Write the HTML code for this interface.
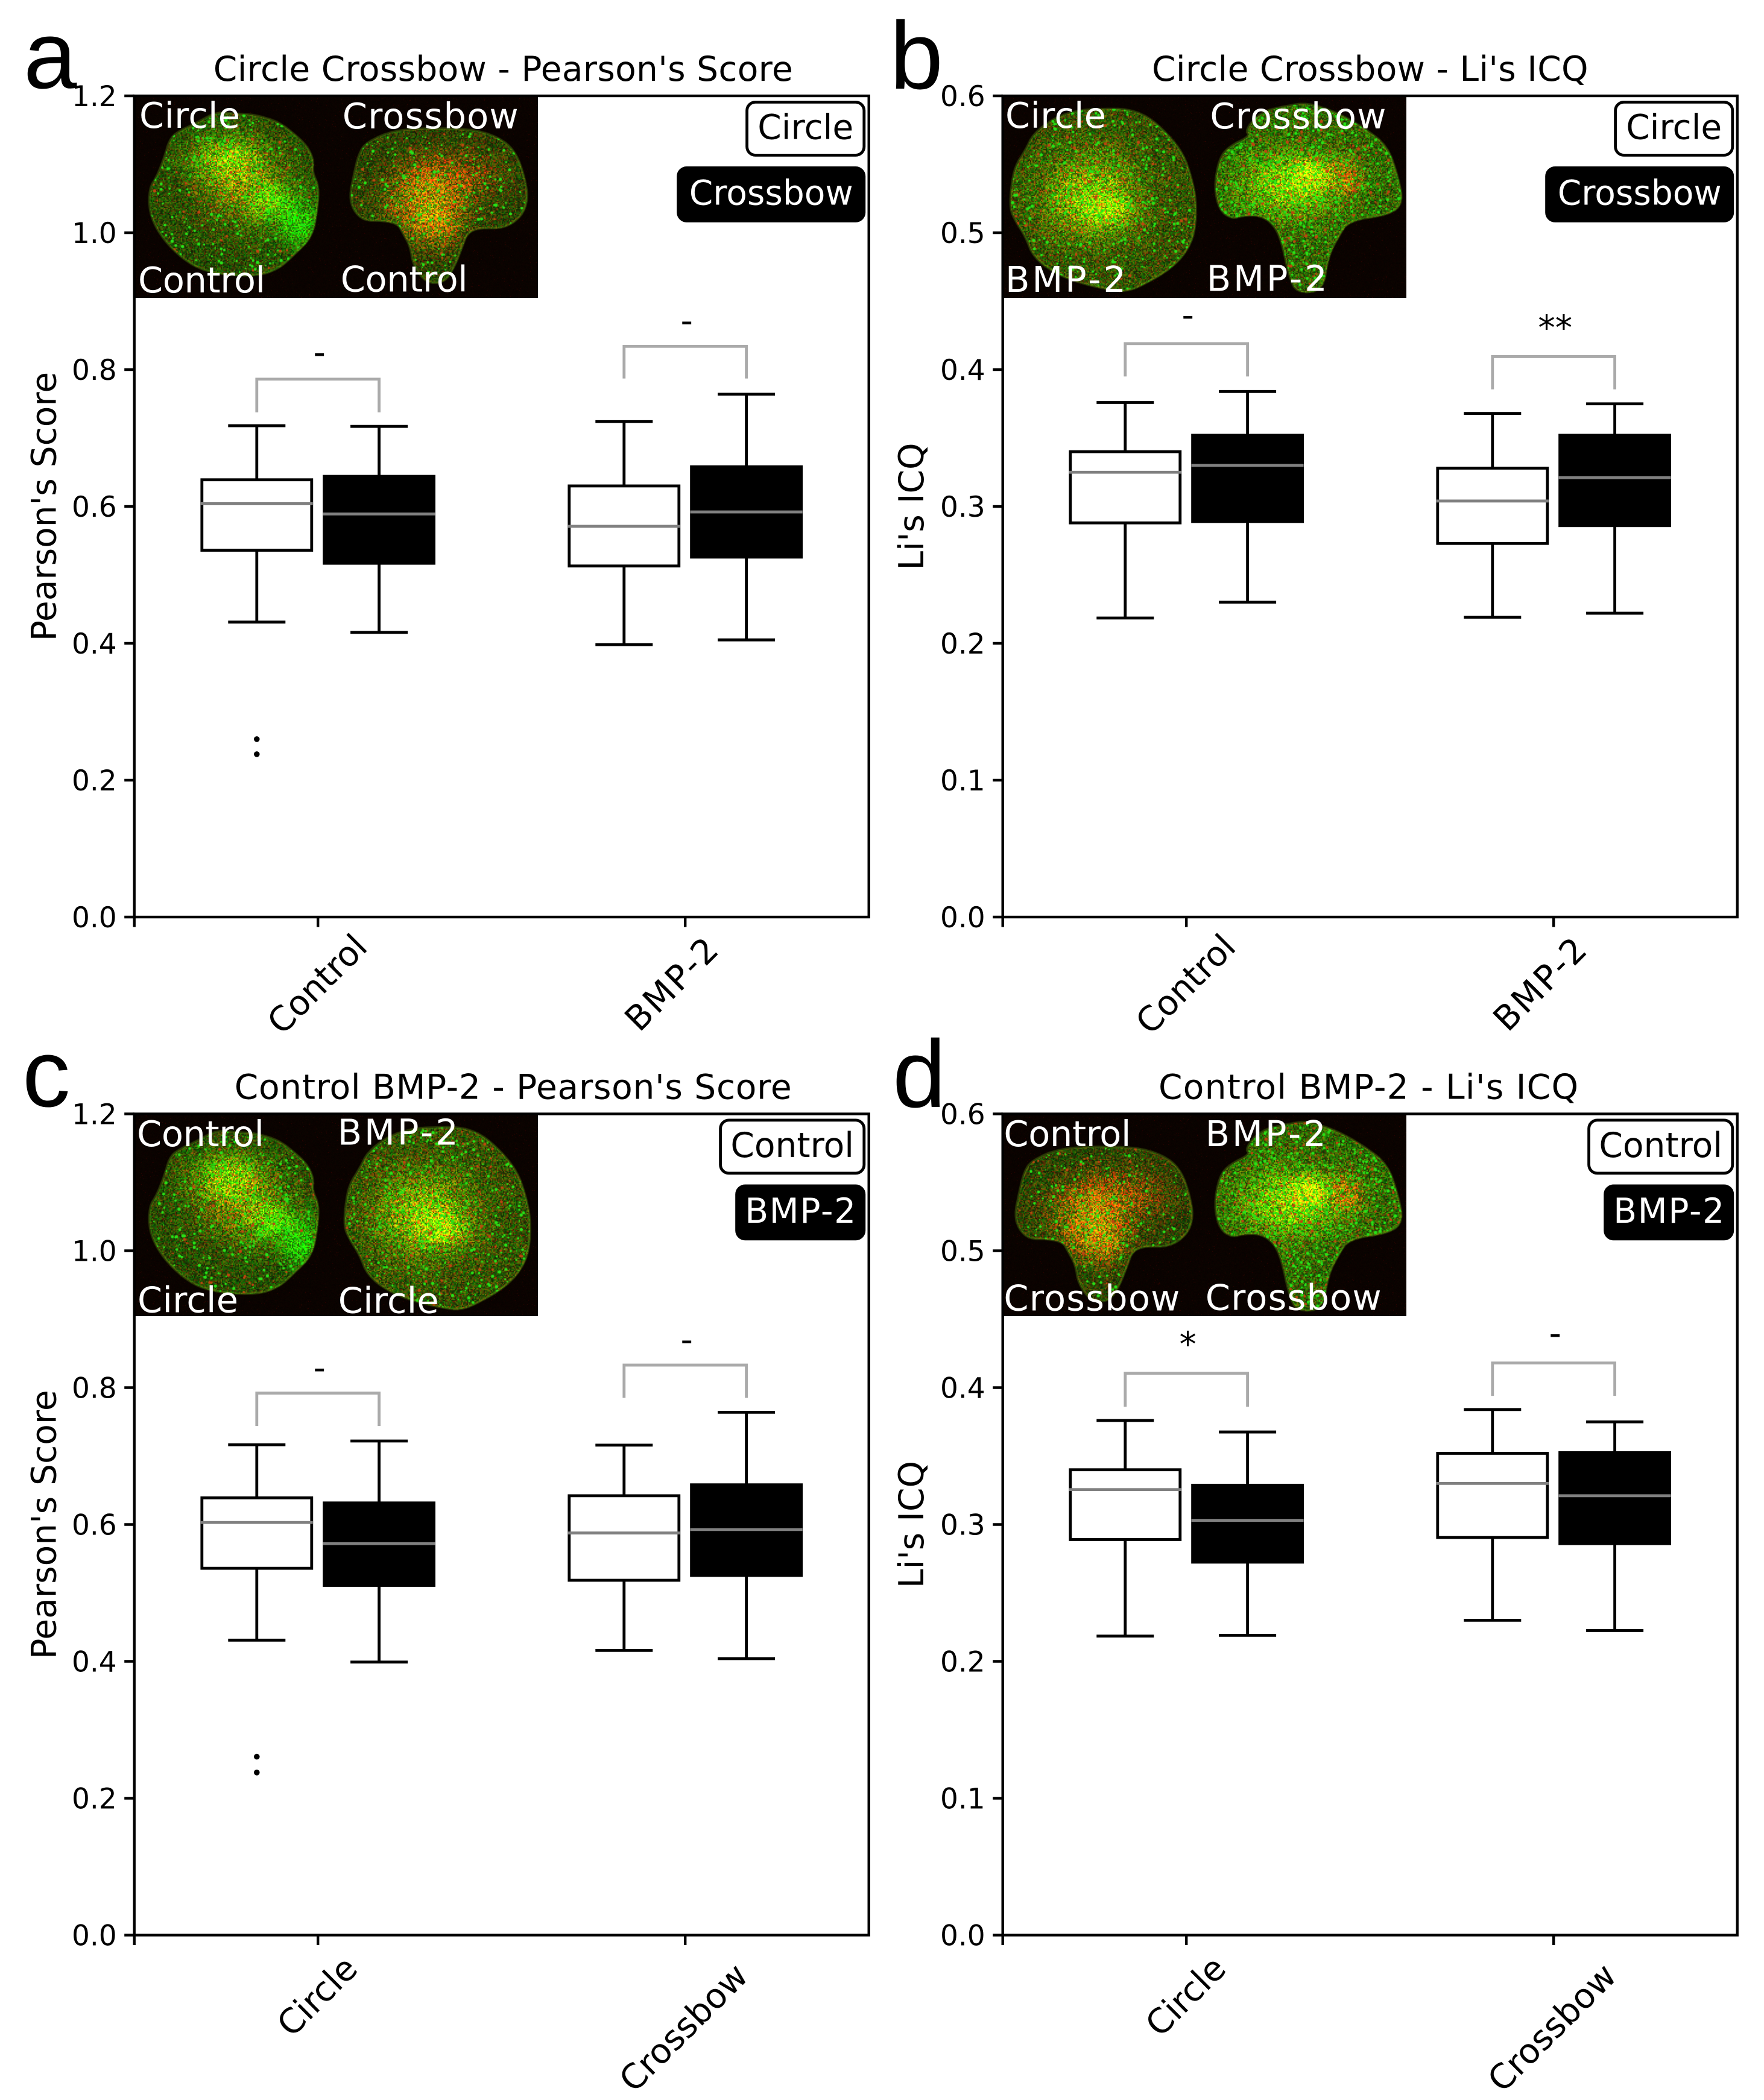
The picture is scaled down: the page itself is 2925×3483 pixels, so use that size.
<!DOCTYPE html>
<html lang="en">
<head>
<meta charset="utf-8">
<title>Circle Crossbow / Control BMP-2 colocalization box plots</title>
<style>
  html, body { margin: 0; padding: 0; background: #fff; }
  #figure { position: relative; width: 2925px; height: 3483px; overflow: hidden; background: #fff; }
  canvas { position: absolute; z-index: 1; display: block; }
  svg { position: absolute; left: 0; top: 0; z-index: 2; }
  text { font-family: "DejaVu Sans", "Liberation Sans", sans-serif; fill: #000; }
  text.letter { font-family: "Liberation Sans", sans-serif; }
</style>
</head>
<body>
<div id="figure">
<svg id="chart" width="2925" height="3483" viewBox="0 0 2925 3483"></svg>
</div>
<script>
// Each box array runs: category 1 first box, category 1 second box, category 2 first box, category 2 second box.
const aCategories = ['Control', 'BMP-2'];
const aWhiskerHigh = [0.718, 0.717, 0.724, 0.764];
const aQ3 = [0.639, 0.644, 0.630, 0.658];
const aMedian = [0.604, 0.589, 0.571, 0.592];
const aQ1 = [0.536, 0.517, 0.513, 0.526];
const aWhiskerLow = [0.431, 0.416, 0.398, 0.405];
const aFliers = [[0.260, 0.238], [], [], []];
const aBracketLow = [0.7375, 0.787];
const aBracketHigh = [0.786, 0.834];
const aSigLabels = ['-', '-'];
const aSigValues = [0.823, 0.869];

const bCategories = ['Control', 'BMP-2'];
const bWhiskerHigh = [0.376, 0.384, 0.368, 0.375];
const bQ3 = [0.340, 0.352, 0.328, 0.352];
const bMedian = [0.325, 0.330, 0.304, 0.321];
const bQ1 = [0.288, 0.289, 0.273, 0.286];
const bWhiskerLow = [0.2185, 0.230, 0.219, 0.222];
const bFliers = [[], [], [], []];
const bBracketLow = [0.395, 0.3856];
const bBracketHigh = [0.419, 0.4095];
const bSigLabels = ['-', '**'];
const bSigValues = [0.4387, 0.4345];

const cCategories = ['Circle', 'Crossbow'];
const cWhiskerHigh = [0.7165, 0.722, 0.716, 0.764];
const cQ3 = [0.639, 0.6315, 0.642, 0.658];
const cMedian = [0.603, 0.572, 0.5876, 0.5926];
const cQ1 = [0.536, 0.511, 0.5185, 0.5256];
const cWhiskerLow = [0.431, 0.399, 0.416, 0.404];
const cFliers = [[0.2607, 0.2376], [], [], []];
const cBracketLow = [0.744, 0.785];
const cBracketHigh = [0.792, 0.833];
const cSigLabels = ['-', '-'];
const cSigValues = [0.827, 0.868];

const dCategories = ['Circle', 'Crossbow'];
const dWhiskerHigh = [0.376, 0.3676, 0.384, 0.375];
const dQ3 = [0.340, 0.3287, 0.352, 0.3525];
const dMedian = [0.3255, 0.303, 0.330, 0.321];
const dQ1 = [0.289, 0.2725, 0.2905, 0.286];
const dWhiskerLow = [0.2185, 0.219, 0.230, 0.2225];
const dFliers = [[], [], [], []];
const dBracketLow = [0.386, 0.394];
const dBracketHigh = [0.4105, 0.418];
const dSigLabels = ['*', '-'];
const dSigValues = [0.4357, 0.4385];

const pearsonTicks = [0.0, 0.2, 0.4, 0.6, 0.8, 1.0, 1.2];
const icqTicks = [0.0, 0.1, 0.2, 0.3, 0.4, 0.5, 0.6];

const NS = 'http://www.w3.org/2000/svg';
const chart = document.getElementById('chart');
const figure = document.getElementById('figure');
const AXW = 1218, AXH = 1362;
const TICKF = 47, LABELF = 56.6, INSETF = 59;

function add(tag, attrs, parent, txt) {
  const n = document.createElementNS(NS, tag);
  for (const k in attrs) n.setAttribute(k, attrs[k]);
  if (txt !== undefined) n.textContent = txt;
  parent.appendChild(n);
  return n;
}

const panels = [
  { id: 'a', left: 222.7, top: 159, title: "Circle Crossbow - Pearson's Score", titleX: 353.8, titleLen: 961, ylabel: "Pearson's Score", ymax: 1.2, ticks: pearsonTicks, fmt: 1,
    cats: aCategories, hi: aWhiskerHigh, q3: aQ3, med: aMedian, q1: aQ1, lo: aWhiskerLow, fl: aFliers, bl: aBracketLow, bh: aBracketHigh, sl: aSigLabels, sv: aSigValues,
    legend: ['Circle', 'Crossbow'], letterX: 39, letterY: 146, ylabelX: 92.5,
    insets: [['Circle', 8.3, 53], ['Crossbow', 345, 54], ['Control', 6.3, 326], ['Control', 342, 324.6]],
    cells: [['A', 0], ['B', 0]] },
  { id: 'b', left: 1662.7, top: 159, title: "Circle Crossbow - Li's ICQ", titleX: 1910, titleLen: 723.6, ylabel: "Li's ICQ", ymax: 0.6, ticks: icqTicks, fmt: 1,
    cats: bCategories, hi: bWhiskerHigh, q3: bQ3, med: bMedian, q1: bQ1, lo: bWhiskerLow, fl: bFliers, bl: bBracketLow, bh: bBracketHigh, sl: bSigLabels, sv: bSigValues,
    legend: ['Circle', 'Crossbow'], letterX: 1475.5, letterY: 147, ylabelX: 1531,
    insets: [['Circle', 4.3, 53], ['Crossbow', 343.7, 54], ['BMP-2', 4.3, 325], ['BMP-2', 338, 323.6]],
    cells: [['C', 0], ['D', 0]] },
  { id: 'c', left: 222.7, top: 1847.5, title: "Control BMP-2 - Pearson's Score", titleX: 388.7, titleLen: 924, ylabel: "Pearson's Score", ymax: 1.2, ticks: pearsonTicks, fmt: 1,
    cats: cCategories, hi: cWhiskerHigh, q3: cQ3, med: cMedian, q1: cQ1, lo: cWhiskerLow, fl: cFliers, bl: cBracketLow, bh: cBracketHigh, sl: cSigLabels, sv: cSigValues,
    legend: ['Control', 'BMP-2'], letterX: 37, letterY: 1835, ylabelX: 92.5,
    insets: [['Control', 4.3, 53.6], ['BMP-2', 337, 51], ['Circle', 5.3, 329], ['Circle', 338, 330]],
    cells: [['A', 0], ['C', 336]] },
  { id: 'd', left: 1662.7, top: 1847.5, title: "Control BMP-2 - Li's ICQ", titleX: 1921, titleLen: 696, ylabel: "Li's ICQ", ymax: 0.6, ticks: icqTicks, fmt: 1,
    cats: dCategories, hi: dWhiskerHigh, q3: dQ3, med: dMedian, q1: dQ1, lo: dWhiskerLow, fl: dFliers, bl: dBracketLow, bh: dBracketHigh, sl: dSigLabels, sv: dSigValues,
    legend: ['Control', 'BMP-2'], letterX: 1480, letterY: 1836, ylabelX: 1531,
    insets: [['Control', 1.7, 53.6], ['BMP-2', 336, 53.6], ['Crossbow', 1.7, 326], ['Crossbow', 336, 325]],
    cells: [['B', -337], ['D', 0]] }
];

const legendWidths = { Circle: 199, Crossbow: 313, Control: 243, 'BMP-2': 216 };
const labelShift = { Control: -1.5, 'BMP-2': -23, Circle: -1.5, Crossbow: -3 };
const labelDrop = { Control: 111, 'BMP-2': 111, Circle: 101, Crossbow: 153 };
const insetLengths = { Control: 211, 'BMP-2': 200, Crossbow: 292, Circle: 167 };

panels.forEach(function (p) {
  const x = function (v) { return p.left + (v + 0.5) / 2 * AXW; };
  const y = function (v) { return p.top + AXH - v / p.ymax * AXH; };
  const bottom = p.top + AXH;
  const g = add('g', {}, chart);
  
  

  const letter = add('text', { x: p.letterX, y: p.letterY, 'font-size': 159, class: 'letter' }, g, p.id);
  
  

  const title = add('text', { x: p.titleX, y: p.top - 25, 'font-size': LABELF, textLength: p.titleLen, lengthAdjust: 'spacing' }, g, p.title);
  
  

  const yl = add('text', { x: 0, y: 0, 'font-size': LABELF, 'text-anchor': 'middle', transform: 'translate(' + p.ylabelX + ',' + (p.top + AXH / 2) + ') rotate(-90)' }, g, p.ylabel);
  
  

  p.ticks.forEach(function (t) {
    const tm = add('line', { x1: p.left - 16.5, x2: p.left, y1: y(t), y2: y(t), stroke: '#000', 'stroke-width': 4.4 }, g);
    
    
    const tl = add('text', { x: p.left - 29, y: y(t) + 17, 'font-size': TICKF, 'text-anchor': 'end' }, g, t.toFixed(p.fmt));
    
    
  });

  const leftTick = add('line', { x1: p.left, x2: p.left, y1: bottom, y2: bottom + 16.5, stroke: '#000', 'stroke-width': 4.4 }, g);
  
  

  p.cats.forEach(function (c, i) {
    const tm = add('line', { x1: x(i), x2: x(i), y1: bottom, y2: bottom + 16.5, stroke: '#000', 'stroke-width': 4.4 }, g);
    
    
    const cx = x(i) + labelShift[c], cy = bottom + labelDrop[c];
    const tl = add('text', { x: 0, y: 20, 'font-size': LABELF, 'text-anchor': 'middle', transform: 'translate(' + cx + ',' + cy + ') rotate(-45)' }, g, c);
    if (c === 'BMP-2') tl.setAttribute('textLength', 190);
    
    
  });

  p.med.forEach(function (m, k) {
    const group = Math.floor(k / 2), dark = k % 2 === 1;
    const cx = x(group + (dark ? 0.1665 : -0.1665));
    const half = 91;
    const bg = add('g', {}, g);
    
    
    const stem = add('path', { d: 'M' + cx + ' ' + y(p.hi[k]) + 'V' + y(p.q3[k]) + 'M' + cx + ' ' + y(p.q1[k]) + 'V' + y(p.lo[k]), stroke: '#000', 'stroke-width': 4.8, fill: 'none' }, bg);
    
    
    const caps = add('path', { d: 'M' + (cx - 47.5) + ' ' + y(p.hi[k]) + 'h95M' + (cx - 47.5) + ' ' + y(p.lo[k]) + 'h95', stroke: '#000', 'stroke-width': 4.8, fill: 'none' }, bg);
    
    
    const rect = add('rect', { x: cx - half, y: y(p.q3[k]), width: half * 2, height: y(p.q1[k]) - y(p.q3[k]), fill: dark ? '#000' : '#fff', stroke: '#000', 'stroke-width': 4.8 }, bg);
    
    
    const ml = add('line', { x1: cx - half - 2, x2: cx + half + 2, y1: y(p.med[k]), y2: y(p.med[k]), stroke: '#808080', 'stroke-width': 4.8 }, bg);
    
    
    p.fl[k].forEach(function (f) {
      const dot = add('circle', { cx: cx, cy: y(f), r: 4.8, fill: '#000' }, bg);
      
      
    });
  });

  p.bl.forEach(function (low, i) {
    const x1 = x(i - 0.1665), x2 = x(i + 0.1665);
    const br = add('path', { d: 'M' + x1 + ' ' + y(low) + 'V' + y(p.bh[i]) + 'H' + x2 + 'V' + y(low), stroke: '#aaaaaa', 'stroke-width': 4.8, fill: 'none' }, g);
    
    
    const isStar = p.sl[i].indexOf('*') >= 0;
    const st = add('text', { x: x(i) + 2.5, y: y(p.sv[i]) + (isStar ? 29 : 17), 'font-size': LABELF, 'text-anchor': 'middle' }, g, p.sl[i]);
    
    
  });

  const frame = add('rect', { x: p.left, y: p.top, width: AXW, height: AXH, fill: 'none', stroke: '#000', 'stroke-width': 4.4 }, g);
  
  

  p.insets.forEach(function (t) {
    const it = add('text', { x: p.left + t[1], y: p.top + t[2], 'font-size': INSETF, textLength: insetLengths[t[0]], lengthAdjust: 'spacing', style: 'fill:#fff' }, g, t[0]);
    
    
  });

  p.legend.forEach(function (name, i) {
    const w = legendWidths[name], right = p.left + AXW - 5.5;
    const ly = p.top + (i === 0 ? 10.4 : 119.4);
    const lg = add('g', {}, g);
    
    
    const r = add('rect', { x: right - w + 2.4, y: ly, width: w - 4.8, height: 88, rx: 14, ry: 14, fill: i === 0 ? '#fff' : '#000', stroke: '#000', 'stroke-width': 4.8 }, lg);
    
    
    const lt = add('text', { x: right - w / 2, y: ly + 61, 'font-size': LABELF, 'text-anchor': 'middle', style: 'fill:' + (i === 0 ? '#000' : '#fff') }, lg, name);
    if (name === 'BMP-2') lt.setAttribute('textLength', 184);
    
    
  });
});

/* ---------- fluorescence micrograph insets (decorative texture) ---------- */
/* Outlines and blobs are traced at 2.333x / 3x zoom; zx/zy() bring them back to inset pixels. */
const zx = function (v) { return v / 2.333; };
const zy = function (v) { return v / 3; };
const cellShapes = {
  A: { poly: [[400,90],[470,95],[560,130],[620,190],[670,250],[695,320],[690,380],[715,450],[710,560],[690,700],[620,790],[560,860],[480,895],[350,890],[250,860],[170,790],[100,690],[60,580],[60,460],[90,400],[120,300],[135,230],[160,185],[250,130],[320,80]],
       blobs: [[360,310,130,110,70,105],[420,450,160,170,85,45],[530,530,70,70,15,110],[640,640,60,90,-10,125],[560,560,150,140,0,30]],
       baseR: 48, baseG: 76, spots: 300 },
  B: { poly: [[900,230],[1010,170],[1180,160],[1330,170],[1430,220],[1480,290],[1510,400],[1525,510],[1500,600],[1430,660],[1340,655],[1290,680],[1270,750],[1240,850],[1200,930],[1130,930],[1080,840],[1070,750],[1040,680],[1020,635],[960,620],[890,620],[850,570],[835,500],[850,400],[870,290]],
       blobs: [[1130,520,130,150,150,70],[1170,640,80,90,110,40],[1240,400,160,110,90,12]],
       baseR: 52, baseG: 66, spots: 230 },
  C: { poly: [[400,65],[480,65],[560,100],[640,190],[700,290],[730,400],[750,520],[745,680],[710,780],[650,860],[560,930],[480,975],[400,960],[300,930],[200,880],[120,800],[90,700],[50,620],[30,560],[35,450],[50,350],[90,270],[120,190],[200,110],[300,70]],
       blobs: [[340,500,170,190,100,110],[410,570,70,70,70,100]],
       baseR: 62, baseG: 80, spots: 430 },
  D: { poly: [[1180,35],[1290,80],[1400,160],[1490,250],[1530,400],[1550,530],[1500,590],[1340,620],[1300,700],[1260,800],[1240,970],[1140,980],[1110,900],[1080,720],[1050,640],[1000,595],[930,595],[890,612],[840,570],[820,450],[840,310],[880,250],[960,200],[940,170],[1000,80],[1100,50]],
       blobs: [[1190,390,60,60,170,120],[1110,440,170,150,95,110],[1330,400,60,90,110,5]],
       baseR: 58, baseG: 100, spots: 560 }
};

function seeded(s) {
  return function () {
    s |= 0; s = s + 0x6D2B79F5 | 0;
    let t = Math.imul(s ^ s >>> 15, 1 | s);
    t = t + Math.imul(t ^ t >>> 7, 61 | t) ^ t;
    return ((t ^ t >>> 14) >>> 0) / 4294967296;
  };
}
function inside(poly, px, py) {
  let c = false;
  for (let i = 0, j = poly.length - 1; i < poly.length; j = i++) {
    const a = poly[i], b = poly[j];
    if ((a[1] > py) !== (b[1] > py) && px < (b[0] - a[0]) * (py - a[1]) / (b[1] - a[1]) + a[0]) c = !c;
  }
  return c;
}
function smooth(poly) {
  let cur = poly;
  for (let n = 0; n < 2; n++) {
    const out = [];
    cur.forEach(function (q, i) {
      const r = cur[(i + 1) % cur.length];
      out.push([q[0] * 0.75 + r[0] * 0.25, q[1] * 0.75 + r[1] * 0.25]);
      out.push([q[0] * 0.25 + r[0] * 0.75, q[1] * 0.25 + r[1] * 0.75]);
    });
    cur = out;
  }
  return cur;
}

panels.forEach(function (p, idx) {
  const W = 670, H = 335;
  const cv = document.createElement('canvas');
  cv.width = W; cv.height = H;
  cv.style.left = (Math.round(p.left) - 1) + 'px';
  cv.style.top = Math.round(p.top) + 'px';
  
  
  figure.appendChild(cv);
  const ctx = cv.getContext('2d');
  const img = ctx.createImageData(W, H);
  const rnd = seeded(1234 + idx * 77);
  const cells = p.cells.map(function (c) {
    const s = cellShapes[c[0]], dx = c[1];
    return { s: s, dx: dx, poly: smooth(s.poly.map(function (q) { return [zx(q[0]) + dx, zy(q[1])]; })) };
  });
  const cols = (W >> 1) + 1;
  const nr = new Float32Array(cols * ((H >> 1) + 1)), ng = new Float32Array(nr.length);
  for (let i = 0; i < nr.length; i++) { nr[i] = rnd(); ng[i] = rnd(); }
  for (let yy = 0; yy < H; yy++) {
    for (let xx = 0; xx < W; xx++) {
      const o = (yy * W + xx) * 4;
      let r = 6 + rnd() * 9, gg = 1 + rnd() * 4, b = 0;
      if (rnd() < 0.008) r += 45;
      for (const c of cells) {
        if (inside(c.poly, xx, yy)) {
          const s = c.s;
          const k = (yy >> 1) * cols + (xx >> 1);
          const a = nr[k], e = ng[k];
          let addR = 0, addG = 0;
          s.blobs.forEach(function (bl) {
            const dx = (xx - zx(bl[0]) - c.dx) / zx(bl[2]), dy = (yy - zy(bl[1])) / zy(bl[3]);
            const w = Math.exp(-(dx * dx + dy * dy) * 0.9);
            addR += bl[4] * w; addG += bl[5] * w;
          });
          r = Math.max(0, (s.baseR + addR) * (0.2 + 1.6 * a * a + 0.3 * a));
          gg = Math.max(0, (s.baseG + addG) * (0.4 + 1.2 * e));
          b = 4;
        }
      }
      img.data[o] = r; img.data[o + 1] = gg; img.data[o + 2] = b; img.data[o + 3] = 255;
    }
  }
  ctx.putImageData(img, 0, 0);
  cells.forEach(function (c) {
    ctx.save();
    ctx.beginPath();
    c.poly.forEach(function (q, i) { if (i) ctx.lineTo(q[0], q[1]); else ctx.moveTo(q[0], q[1]); });
    ctx.closePath();
    ctx.strokeStyle = 'rgba(110,170,20,0.32)';
    ctx.lineWidth = 4;
    ctx.lineJoin = 'round';
    ctx.stroke();
    ctx.clip();
    let placed = 0, guard = 0;
    while (placed < c.s.spots && guard < 20000) {
      guard++;
      const px = rnd() * W, py = rnd() * H;
      if (!inside(c.poly, px, py)) continue;
      placed++;
      ctx.fillStyle = rnd() < 0.8 ? 'rgb(40,225,25)' : 'rgb(190,70,15)';
      ctx.beginPath();
      ctx.arc(px, py, 1 + rnd() * 1.7, 0, 6.3);
      ctx.fill();
    }
    ctx.restore();
  });
});
</script>
</body>
</html>
